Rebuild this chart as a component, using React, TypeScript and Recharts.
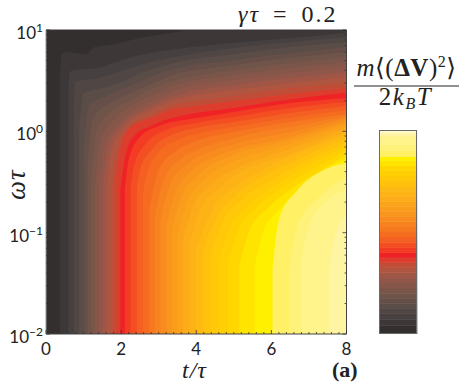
// Filled contour map of the velocity variance, gamma tau = 0.2
import { Area, Bar, BarChart, ComposedChart, XAxis, YAxis } from 'recharts';

// each contour: [t/tau, log10(omega tau)], from where it leaves the bottom
const c000 = [[0, 1.1], [8, 1.1]];
const c040 = [[0.37, 0.557], [0.42, 0.754], [0.5, 0.784], [1.05, 0.764], [1.3, 0.833], [1.7, 0.853], [2.5, 0.922], [3.3, 0.971], [4.1, 1.01], [8, 1.1]];
const c070 = [[0.59, 0.359], [0.63, 0.586], [0.75, 0.606], [1.4, 0.626], [1.8, 0.675], [2.5, 0.754], [3.3, 0.803], [5, 0.873], [6.5, 0.922], [8, 0.971]];
const c100 = [[0.74, 0.211], [0.78, 0.488], [1, 0.507], [1.4, 0.527], [1.9, 0.586], [2.5, 0.655], [3.3, 0.725], [5, 0.823], [6.5, 0.882], [8, 0.932]];
const c125 = [[0.88, 0.014], [1, 0.379], [1.5, 0.428], [2, 0.488], [2.6, 0.586], [3.3, 0.665], [5, 0.764], [6.5, 0.833], [8, 0.882]];
const c150 = [[1, -0.184], [1.15, 0.261], [1.6, 0.349], [2.1, 0.428], [2.7, 0.527], [3.3, 0.606], [5, 0.705], [6.5, 0.774], [8, 0.833]];
const c175 = [[1.1, -0.332], [1.25, 0.132], [1.7, 0.28], [2.2, 0.369], [2.8, 0.468], [3.3, 0.547], [5, 0.655], [6.5, 0.725], [8, 0.784]];
const c200 = [[1.2, -0.48], [1.35, 0.014], [1.8, 0.211], [2.3, 0.32], [2.8, 0.419], [3.3, 0.488], [5, 0.606], [6.5, 0.675], [8, 0.734]];
const c225 = [[1.3, -0.578], [1.45, -0.085], [1.9, 0.152], [2.4, 0.28], [2.9, 0.369], [3.3, 0.438], [5, 0.557], [6.5, 0.626], [8, 0.685]];
const c250 = [[1.4, -0.578], [1.55, -0.134], [2, 0.103], [2.5, 0.241], [3, 0.33], [3.5, 0.409], [5, 0.507], [6.5, 0.576], [8, 0.636]];
const c275 = [[1.51, -0.578], [1.65, -0.164], [2.05, 0.073], [2.6, 0.211], [3.1, 0.3], [3.6, 0.369], [5, 0.458], [6.5, 0.527], [8, 0.586]];
const c300 = [[1.62, -0.578], [1.75, -0.184], [2.1, 0.043], [2.7, 0.192], [3.3, 0.29], [4, 0.359], [5, 0.409], [6.5, 0.478], [8, 0.537]];
const c325 = [[1.75, -0.529], [1.87, -0.203], [2.2, 0.034], [2.8, 0.162], [3.3, 0.251], [4, 0.3], [5, 0.349], [6.5, 0.428], [8, 0.478]];
const c350 = [[1.87, -0.43], [1.97, -0.184], [2.25, 0.043], [2.8, 0.132], [3.3, 0.211], [4, 0.251], [5, 0.3], [6.5, 0.369], [8, 0.428]];
const c375 = [[1.98, -0.578], [2.05, -0.381], [2.32, -0.055], [2.85, 0.063], [4, 0.182], [5, 0.231], [6, 0.29], [7, 0.34], [8, 0.379]];
const c400 = [[2.1, -0.578], [2.2, -0.282], [2.5, -0.055], [3, 0.053], [4, 0.132], [5, 0.192], [6.5, 0.28], [8, 0.33]];
const c425 = [[2.25, -0.578], [2.35, -0.332], [2.7, -0.105], [3.2, 0.014], [4, 0.083], [5, 0.142], [6.5, 0.231], [8, 0.29]];
const c450 = [[2.42, -0.578], [2.5, -0.381], [2.85, -0.164], [3.4, -0.026], [4, 0.034], [5, 0.093], [6.5, 0.182], [8, 0.251]];
const c475 = [[2.58, -0.628], [2.68, -0.43], [3, -0.203], [3.5, -0.085], [4, -0.026], [5, 0.043], [6.5, 0.132], [8, 0.211]];
const c500 = [[2.75, -0.776], [3, -0.381], [3.5, -0.184], [4, -0.095], [5, -0.006], [6.5, 0.093], [8, 0.172]];
const c525 = [[2.9, -0.825], [3.15, -0.46], [3.6, -0.262], [4, -0.184], [5, -0.065], [6.5, 0.043], [8, 0.152]];
const c550 = [[3.05, -0.874], [3.3, -0.529], [3.8, -0.312], [4.5, -0.184], [5, -0.124], [6.5, -0.006], [8, 0.132]];
const c575 = [[3.2, -0.924], [3.45, -0.598], [3.9, -0.381], [4.5, -0.253], [5, -0.184], [6.5, -0.055], [8, 0.113]];
const c600 = [[3.35, -0.973], [3.6, -0.647], [4, -0.45], [5, -0.233], [6.5, -0.085], [8, 0.093]];
const c625 = [[3.5, -1.02], [3.75, -0.707], [4.2, -0.48], [5, -0.302], [6.5, -0.124], [8, 0.063]];
const c650 = [[3.65, -1.07], [3.9, -0.756], [4.3, -0.549], [5, -0.381], [6.5, -0.174], [8, 0.034]];
const c675 = [[3.82, -1.12], [4.1, -0.776], [4.5, -0.598], [5.2, -0.401], [6.5, -0.223], [8, 0.004]];
const c700 = [[4, -1.17], [4.5, -0.727], [5, -0.559], [6, -0.332], [7, -0.174], [8, -0.026]];
const c725 = [[4.18, -1.17], [4.5, -0.874], [5, -0.647], [6, -0.401], [7, -0.223], [8, -0.065]];
const c750 = [[4.38, -1.22], [4.7, -0.894], [5.2, -0.677], [6, -0.48], [7, -0.282], [8, -0.105]];
const c775 = [[4.62, -1.25], [4.9, -0.953], [5.4, -0.727], [6, -0.559], [7, -0.332], [8, -0.144]];
const c800 = [[4.85, -1.29], [5.15, -0.953], [5.6, -0.746], [6.2, -0.578], [7, -0.401], [8, -0.184]];
const c825 = [[5.15, -1.32], [5.4, -0.993], [5.9, -0.756], [6.5, -0.578], [7.2, -0.411], [8, -0.233]];
const c850 = [[5.55, -1.35], [5.8, -0.973], [6.2, -0.776], [6.8, -0.549], [7.4, -0.391], [8, -0.272]];
const c870 = [[6.03, -1.37], [6.2, -0.874], [6.7, -0.578], [7.4, -0.381], [8, -0.312]];
const c900 = [[6.48, -1.32], [6.7, -0.924], [7.2, -0.677], [7.6, -0.539], [8, -0.46]];
const c930 = [[6.8, -1.29], [7, -0.924], [7.5, -0.677], [8, -0.578]];
const c970 = [[7.52, -1.37], [7.7, -1.02], [8, -0.825]];

const contourLines = [c000, c040, c070, c100, c125, c150, c175, c200, c225, c250, c275, c300, c325, c350, c375, c400, c425, c450, c475, c500, c525, c550, c575, c600, c625, c650, c675, c700, c725, c750, c775, c800, c825, c850, c870, c900, c930, c970];

// lower edge of each colour band, the last band only shows in the colour bar
const levels = [0, 0.04, 0.07, 0.1, 0.125, 0.15, 0.175, 0.2, 0.225, 0.25, 0.275, 0.3, 0.325, 0.35, 0.375, 0.4, 0.425, 0.45, 0.475, 0.5, 0.525, 0.55, 0.575, 0.6, 0.625, 0.65, 0.675, 0.7, 0.725, 0.75, 0.775, 0.8, 0.825, 0.85, 0.87, 0.9, 0.93, 0.97, 0.985];
const levelColors = ['#332f2f', '#3d3737', '#474040', '#504643', '#5a4c47', '#654f48', '#6f5449', '#7a5549', '#85564a', '#91564a', '#a05646', '#af5540', '#c04d38', '#dc3d2c', '#ef2226', '#f23c24', '#f34f23', '#f46022', '#f56c21', '#f67820', '#f78220', '#f88c1e', '#f9941d', '#fa9c1c', '#fba41a', '#fcac18', '#fdb316', '#feba12', '#ffc10c', '#ffc808', '#ffcf04', '#ffd600', '#ffe400', '#fff000', '#fff066', '#fff27a', '#fff38c', '#fff4a2', '#fff9c8'];

const xMajor = [0, 2, 4, 6, 8];
const xMinor = [0.2, 0.4, 0.6, 0.8, 1, 1.2, 1.4, 1.6, 1.8, 2.2, 2.4, 2.6, 2.8, 3, 3.2, 3.4, 3.6, 3.8, 4.2, 4.4, 4.6, 4.8, 5, 5.2, 5.4, 5.6, 5.8, 6.2, 6.4, 6.6, 6.8, 7, 7.2, 7.4, 7.6, 7.8];
const yMajor = [0.01, 0.1, 1, 10];
const yMinor = [0.02, 0.03, 0.04, 0.05, 0.06, 0.07, 0.08, 0.09, 0.2, 0.3, 0.4, 0.5, 0.6, 0.7, 0.8, 0.9, 2, 3, 4, 5, 6, 7, 8, 9];
const yExponents = ['−2', '−1', '0', '1'];
const barTicks = [0, 0.2, 0.4, 0.6, 0.8, 1];

const SANS = 'Lato, "Open Sans", sans-serif';
const SERIF = '"Liberation Serif", "DejaVu Serif", serif';
const INK = '#222222';

const barRow: Record<string, number | string> = { name: 'scale' };
levels.forEach((l, i) => {
    barRow[`b${i}`] = (i + 1 < levels.length ? levels[i + 1] : 1) - l;
});

function BottomTick({ x, y, payload }: any) {
    const major = xMajor.includes(payload.value);
    return (
        <g>
            <line x1={x} x2={x} y1={y} y2={y - (major ? 4 : 2)} stroke="#333" strokeWidth={0.8} />
            {major && (
                <text x={x} y={y + 21} textAnchor="middle" fontFamily={SANS} fontSize={17} fill={INK}>
                    {payload.value}
                </text>
            )}
        </g>
    );
}

function TopTick({ x, y, payload }: any) {
    const major = xMajor.includes(payload.value);
    return <line x1={x} x2={x} y1={y} y2={y + (major ? 4 : 2)} stroke="#333" strokeWidth={0.8} />;
}

function LeftTick({ x, y, payload }: any) {
    const i = yMajor.indexOf(payload.value);
    return (
        <g>
            <line x1={x} x2={x + (i >= 0 ? 4 : 2)} y1={y} y2={y} stroke="#333" strokeWidth={0.8} />
            {i >= 0 && (
                <text x={x - 3} y={y + 9} textAnchor="end" fontFamily={SANS} fontSize={17} fill={INK}>
                    10
                    <tspan fontSize={12} dy={-7}>{yExponents[i]}</tspan>
                </text>
            )}
        </g>
    );
}

function RightTick({ x, y, payload }: any) {
    const major = yMajor.includes(payload.value);
    return <line x1={x} x2={x - (major ? 4 : 2)} y1={y} y2={y} stroke="#333" strokeWidth={0.8} />;
}

function BarLeftTick({ x, y }: any) {
    return <line x1={x} x2={x + 2} y1={y} y2={y} stroke="#333" strokeWidth={0.8} />;
}

function BarRightTick({ x, y, payload }: any) {
    return (
        <g>
            <line x1={x} x2={x - 2} y1={y} y2={y} stroke="#333" strokeWidth={0.8} />
            <text x={x + 7} y={y + 5} fontFamily={SANS} fontSize={17} fill={INK}>
                {payload.value.toFixed(1)}
            </text>
        </g>
    );
}

export default function App() {
    return (
        <div style={{ position: 'absolute', left: 0, top: 0, width: 463, height: 389, background: '#fff', overflow: 'hidden' }}>
            <ComposedChart width={463} height={389} margin={{ top: 0, right: 0, bottom: 0, left: 0 }}>
                <XAxis xAxisId="b" type="number" dataKey="t" domain={[0, 8]} ticks={[...xMajor, ...xMinor]} interval={0} height={55} tick={<BottomTick />} tickLine={false} tickSize={0} tickMargin={0} axisLine={{ stroke: '#444' }} />
                <XAxis xAxisId="t" orientation="top" type="number" dataKey="t" domain={[0, 8]} ticks={[...xMajor, ...xMinor]} interval={0} height={30} tick={<TopTick />} tickLine={false} tickSize={0} tickMargin={0} axisLine={{ stroke: '#3a3636' }} />
                <YAxis yAxisId="l" type="number" scale="log" domain={[0.01, 10]} allowDataOverflow ticks={[...yMajor, ...yMinor]} interval={0} width={46} tick={<LeftTick />} tickLine={false} tickSize={0} tickMargin={0} axisLine={{ stroke: '#9a9a9a' }} />
                <YAxis yAxisId="r" orientation="right" type="number" scale="log" domain={[0.01, 10]} allowDataOverflow ticks={[...yMajor, ...yMinor]} interval={0} width={116.5} tick={<RightTick />} tickLine={false} tickSize={0} tickMargin={0} axisLine={{ stroke: '#444' }} />
                {contourLines.map((line, i) => (
                    <Area
                        key={levels[i]}
                        xAxisId="b"
                        yAxisId="l"
                        data={line.map(([t, logW]) => ({ t, w: 10 ** logW }))}
                        dataKey="w"
                        baseValue={0.01}
                        type="monotoneX"
                        stroke="none"
                        fill={levelColors[i]}
                        fillOpacity={1}
                        dot={false}
                        activeDot={false}
                        isAnimationActive={false}
                    />
                ))}
            </ComposedChart>

            <div style={{ position: 'absolute', left: 379, top: 130 }}>
                <BarChart width={84} height={204} data={[barRow]} margin={{ top: 0, right: 0, bottom: 0, left: 0 }} barCategoryGap={0}>
                    <XAxis dataKey="name" hide />
                    <YAxis yAxisId="l" type="number" domain={[0, 1]} ticks={barTicks} interval={0} width={0} tick={<BarLeftTick />} tickLine={false} tickSize={0} tickMargin={0} axisLine={false} />
                    <YAxis yAxisId="r" orientation="right" type="number" domain={[0, 1]} ticks={barTicks} interval={0} width={46} tick={<BarRightTick />} tickLine={false} tickSize={0} tickMargin={0} axisLine={false} />
                    {levels.map((l, i) => (
                        <Bar key={l} yAxisId="l" stackId="scale" dataKey={`b${i}`} fill={levelColors[i]} stroke={levelColors[i]} strokeWidth={0.6} isAnimationActive={false} />
                    ))}
                </BarChart>
                <div style={{ position: 'absolute', left: 0, top: 0, width: 38, height: 204, boxSizing: 'border-box', border: '1px solid #6a6a6a' }} />
            </div>

            <svg width={463} height={389} style={{ position: 'absolute', left: 0, top: 0, pointerEvents: 'none' }}>
                <text x={238} y={22} fontFamily={SERIF} fontSize={24} letterSpacing={2} wordSpacing={5} fill={INK}>
                    <tspan fontStyle="italic">γτ</tspan> = 0.2
                </text>
                <text x={182} y={378} fontFamily={SERIF} fontSize={24} letterSpacing={1} fontStyle="italic" fill={INK}>t/τ</text>
                <text x={332} y={377} fontFamily={SERIF} fontSize={22} fontWeight="bold" fill={INK}>(a)</text>
                <text transform="translate(25 200) rotate(-90)" fontFamily={SERIF} fontSize={27} letterSpacing={1} fontStyle="italic" fill={INK}>ωτ</text>
                <text x={406.5} y={76} textAnchor="middle" fontFamily={SERIF} fontSize={25} letterSpacing={0.5} fill={INK}>
                    <tspan fontStyle="italic">m</tspan>⟨(<tspan fontWeight="bold">ΔV</tspan>)<tspan fontSize={16} dy={-9}>2</tspan><tspan dy={9}>⟩</tspan>
                </text>
                <line x1={354} x2={459} y1={86} y2={86} stroke={INK} strokeWidth={1} />
                <text x={405.5} y={105} textAnchor="middle" fontFamily={SERIF} fontSize={25} letterSpacing={1.5} fill={INK}>
                    2<tspan fontStyle="italic">k</tspan><tspan fontSize={16} fontStyle="italic" dy={4}>B</tspan><tspan fontStyle="italic" dy={-4}>T</tspan>
                </text>
            </svg>
        </div>
    );
}
